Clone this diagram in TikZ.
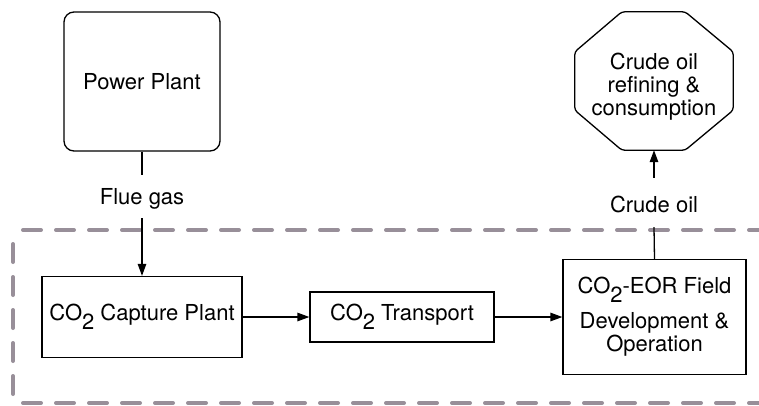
\documentclass[tikz,border=0pt]{standalone}
\usepackage{fontspec}
\setmainfont{TeX Gyre Heros}
\usetikzlibrary{arrows.meta,calc}
\definecolor{zonegray}{RGB}{152,143,153}
% CO2 with a full-size, lowered subscript
\newcommand{\cotwo}{CO\raisebox{-9pt}{2}}
\begin{document}
\begin{tikzpicture}[x=1pt,y=-1pt,
  font=\fontsize{22}{23}\selectfont,
  box/.style={draw, line width=1.3pt, inner sep=0pt, align=center},
  tag/.style={inner sep=0pt, anchor=base},
  flow/.style={line width=1.3pt, -{Triangle[length=12pt,width=8.5pt]}},
  link/.style={line width=1.3pt},
  zone/.style={draw=zonegray, line width=4pt, line cap=round, dash pattern=on 18pt off 15pt}]
\useasboundingbox (0,0) rectangle (759,405);

% dashed boundary of the CO2-EOR system
\draw[zone, dash phase=19pt] (13,230) -- (13,403);
\draw[zone, dash phase=23pt] (13,230) -- (775,230);
\draw[zone, dash phase=23pt] (13,403) -- (775,403);

% blocks
\node[box, rounded corners=10pt, minimum width=156pt, minimum height=139pt] (pp) at (142,81.5) {Power Plant};
\node[box, minimum width=200pt, minimum height=81pt] (cap) at (142,317) {\cotwo{} Capture Plant};
\node[box, minimum width=184pt, minimum height=50pt] (tr) at (402,317) {\cotwo{} Transport};
\node[box, minimum width=183pt, minimum height=115pt] (eor) at (654.5,317)
  {CO\raisebox{-9pt}[0pt][0pt]{2}-EOR Field\\[12pt]Development \&\\Operation};

% octagon for refining and consumption
\node[inner sep=0pt, minimum width=158pt, minimum height=138pt] (oct) at (654,81) {};
\draw[link, rounded corners=3pt]
  ($(oct.north west)+(47,0)$) -- ($(oct.north east)+(-48,0)$) --
  ($(oct.north east)+(0,40)$) -- ($(oct.south east)+(0,-40)$) --
  ($(oct.south east)+(-48,0)$) -- ($(oct.south west)+(47,0)$) --
  ($(oct.south west)+(0,-40)$) -- ($(oct.north west)+(0,40)$) -- cycle;
\node[align=center, inner sep=0pt] (octtext) at ($(oct.center)+(0,6)$) {Crude oil\\refining \&\\consumption};

% stream labels
\node[tag, text height=29pt, text depth=14pt] (flue) at (142,204) {Flue gas};
\node[tag, text height=34pt, text depth=15pt] (crude) at (654,212) {Crude oil};

% connectors
\draw[link] (pp.south) -- (flue.north);
\draw[flow] (flue.south) -- (cap.north);
\draw[flow] (cap.east) -- (tr.west);
\draw[flow] (tr.east) -- (eor.west);
\draw[link] (eor.north) -- (crude.south);
\draw[flow] (crude.north) -- (oct.south);
\end{tikzpicture}
\end{document}
